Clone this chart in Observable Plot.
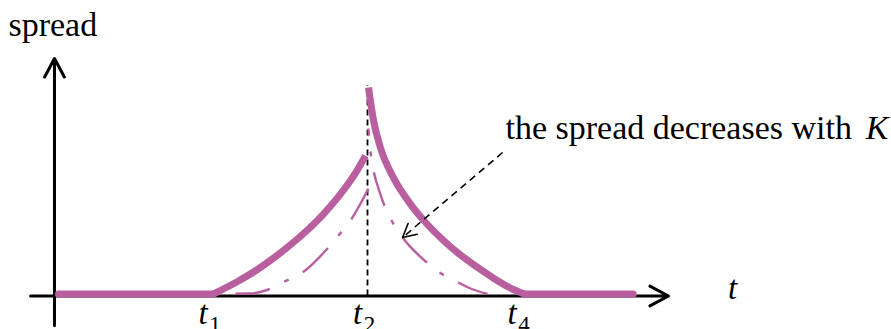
<!DOCTYPE html>
<html>
<head>
<meta charset="utf-8">
<script src="https://cdn.jsdelivr.net/npm/d3@7"></script>
<script src="https://cdn.jsdelivr.net/npm/@observablehq/plot@0.6"></script>
<style>
  html, body { margin: 0; padding: 0; background: #fff; }
  svg { display: block; }
</style>
</head>
<body>
<div id="chart"></div>
<script>
// ---------- data ----------
// time marks on the t axis
const tickT = [1, 2, 3];
const tickSub = ["1", "2", "4"];

// thick curve: flat before t1
const headT = [0, 1.003];
const headS = [0, 0];
// thick curve: rising from t1 up to t2
const riseT = [1.003, 1.165, 1.275, 1.385, 1.489, 1.599, 1.709, 1.812, 1.922, 1.987];
const riseS = [0, 0.13, 0.232, 0.351, 0.476, 0.622, 0.789, 0.973, 1.208, 1.383];
// thick curve: falling from t2 to t4
const fallT = [2.0065, 2.039, 2.084, 2.168, 2.278, 2.388, 2.492, 2.602, 2.706, 2.816, 2.919, 3.016];
const fallS = [2.065, 1.735, 1.462, 1.163, 0.899, 0.695, 0.535, 0.39, 0.273, 0.158, 0.065, 0];
// thick curve: flat after t4
const tailT = [3.016, 3.72];
const tailS = [0, 0];

// thinner dash-dotted curve (larger K)
const dashRiseT = [1.003, 1.243, 1.340, 1.463, 1.579, 1.741, 1.812, 1.890, 1.955, 2.006];
const dashRiseS = [0, 0.005, 0.035, 0.125, 0.215, 0.455, 0.585, 0.735, 0.905, 1.055];
const dashFallT = [2.006, 2.019, 2.039, 2.071, 2.097, 2.149, 2.227, 2.369, 2.466, 2.563, 2.667, 2.777];
const dashFallS = [1.655, 1.435, 1.235, 1.055, 0.935, 0.755, 0.565, 0.335, 0.215, 0.135, 0.055, 0];

// axes (from, to)
const tAxisT = [-0.181, 3.948];
const tAxisS = -0.02;
const sAxisT = -0.026;
const sAxisS = [-0.315, 2.355];
const guideTop = 2.085;

// annotation
const noteText = "the spread decreases with";
const noteSymbol = "K";
const noteFromT = 2.874, noteFromS = 1.415;
const noteToT = 2.227, noteToS = 0.565;
const noteTextT = 2.893, noteTextS = 1.555;
const noteSymbolT = 5.372;

// axis titles
const yTitle = "spread";
const yTitleT = -0.324, yTitleS = 2.585;
const xTitle = "t";
const xTitleT = 4.363, xTitleS = -0.045;
const tickLabelS = -0.30, tickSubS = -0.375;

// ---------- scales ----------
const W = 891, H = 329;
const xDomain = [-0.37540, 5.39159];
const yDomain = [-0.355, 2.935];

const pts = (T, S) => T.map((t, i) => ({t, s: S[i]}));
const purple = "#b95fa0";
const serif = "'Liberation Serif', 'Times New Roman', serif";
const dashDot = "35,16,5,16";

// arrow-head rotation from the annotation direction in pixels
const sx = W / (xDomain[1] - xDomain[0]);
const sy = H / (yDomain[1] - yDomain[0]);
const ddx = (noteToT - noteFromT) * sx, ddy = -(noteToS - noteFromS) * sy;
const len = Math.hypot(ddx, ddy);
const headRot = Math.atan2(ddx / len, -ddy / len) * 180 / Math.PI;

const chevron = {
  draw(ctx, size) {
    const L = Math.sqrt(size / Math.PI);
    const a = 28 * Math.PI / 180;
    ctx.moveTo(-L * Math.sin(a), L * Math.cos(a));
    ctx.lineTo(0, 0);
    ctx.lineTo(L * Math.sin(a), L * Math.cos(a));
  }
};

const axes = [
  {x1: tAxisT[0], y1: tAxisS, x2: tAxisT[1], y2: tAxisS},
  {x1: sAxisT, y1: sAxisS[0], x2: sAxisT, y2: sAxisS[1]}
];

const chart = Plot.plot({
  width: W,
  height: H,
  margin: 0,
  x: {domain: xDomain, range: [0, W], axis: null},
  y: {domain: yDomain, range: [H, 0], axis: null},
  marks: [
    Plot.arrow(axes, {x1: "x1", y1: "y1", x2: "x2", y2: "y2", stroke: "black", strokeWidth: 3, headLength: 10.5, headAngle: 56}),
    Plot.ruleX([tickT[1]], {y1: tAxisS, y2: guideTop, stroke: "black", strokeWidth: 1.8, strokeDasharray: "6,4"}),
    Plot.line(pts(dashRiseT, dashRiseS), {x: "t", y: "s", curve: "monotone-x", stroke: purple, strokeWidth: 2.4, strokeDasharray: dashDot, strokeDashoffset: 50, strokeLinecap: "butt"}),
    Plot.line(pts(dashFallT, dashFallS), {x: "t", y: "s", curve: "monotone-x", stroke: purple, strokeWidth: 2.4, strokeDasharray: dashDot, strokeDashoffset: 28, strokeLinecap: "butt"}),
    Plot.line(pts(headT, headS), {x: "t", y: "s", stroke: purple, strokeWidth: 7, strokeLinecap: "round"}),
    Plot.line(pts(riseT, riseS), {x: "t", y: "s", curve: "monotone-x", stroke: purple, strokeWidth: 7, strokeLinecap: "butt"}),
    Plot.line(pts(fallT, fallS), {x: "t", y: "s", curve: "monotone-x", stroke: purple, strokeWidth: 7, strokeLinecap: "butt"}),
    Plot.line(pts(tailT, tailS), {x: "t", y: "s", stroke: purple, strokeWidth: 7, strokeLinecap: "round"}),
    Plot.link([{x1: noteFromT, y1: noteFromS, x2: noteToT, y2: noteToS}], {x1: "x1", y1: "y1", x2: "x2", y2: "y2", stroke: "black", strokeWidth: 1.6, strokeDasharray: "7,5"}),
    Plot.dot([{t: noteToT, s: noteToS}], {x: "t", y: "s", symbol: chevron, r: 15, rotate: headRot, fill: "none", stroke: "black", strokeWidth: 1.6, strokeLinecap: "round", strokeLinejoin: "round"}),
    Plot.text([noteText], {x: noteTextT, y: noteTextS, text: d => d, textAnchor: "start", lineAnchor: "bottom", fontSize: 34, fontFamily: serif, fill: "black"}),
    Plot.text([noteSymbol], {x: noteSymbolT, y: noteTextS, text: d => d, textAnchor: "end", lineAnchor: "bottom", fontSize: 34, fontFamily: serif, fontStyle: "italic", fill: "black"}),
    Plot.text([yTitle], {x: yTitleT, y: yTitleS, text: d => d, textAnchor: "start", lineAnchor: "bottom", fontSize: 34, fontFamily: serif, fill: "black"}),
    Plot.text([xTitle], {x: xTitleT, y: xTitleS, text: d => d, textAnchor: "middle", lineAnchor: "bottom", fontSize: 33, fontFamily: serif, fontStyle: "italic", fill: "black"}),
    Plot.text(tickT, {x: d => d, y: tickLabelS, text: () => "t", dx: -10, textAnchor: "middle", lineAnchor: "bottom", fontSize: 33, fontFamily: serif, fontStyle: "italic", fill: "black"}),
    Plot.text(tickT, {x: d => d, y: tickSubS, text: (d, i) => tickSub[i], dx: 2, textAnchor: "middle", lineAnchor: "bottom", fontSize: 23, fontFamily: serif, fill: "black"})
  ]
});

document.getElementById("chart").appendChild(chart);
</script>
</body>
</html>
